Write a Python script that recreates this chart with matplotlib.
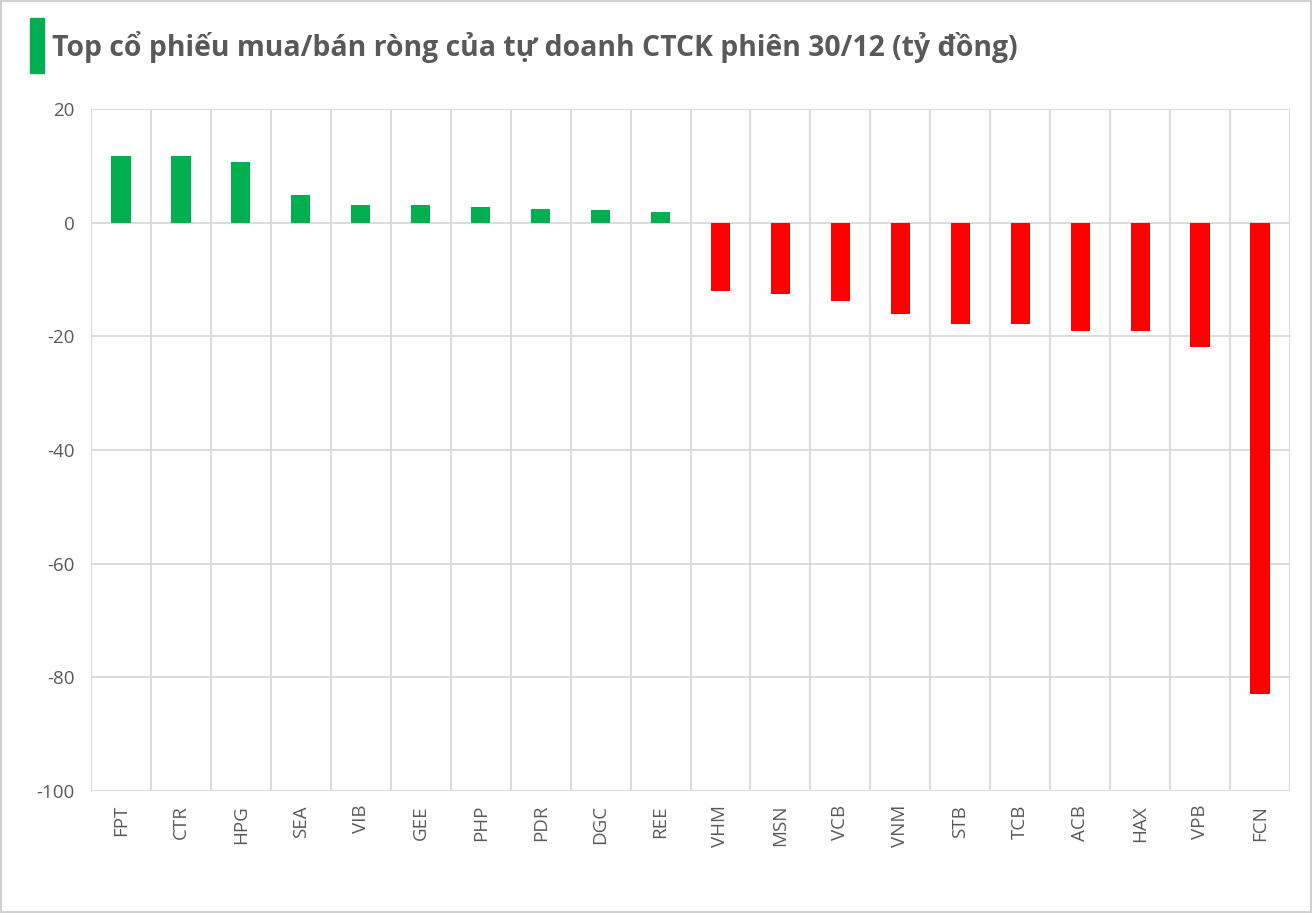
import matplotlib
matplotlib.use("Agg")
import matplotlib.pyplot as plt
from matplotlib.patches import Rectangle

# du lieu tu doanh CTCK phien 30/12 (ty dong)
tickers = ['FPT', 'CTR', 'HPG', 'SEA', 'VIB', 'GEE', 'PHP', 'PDR', 'DGC', 'REE',
           'VHM', 'MSN', 'VCB', 'VNM', 'STB', 'TCB', 'ACB', 'HAX', 'VPB', 'FCN']
values = [11.7, 11.7, 10.6, 4.8, 3.1, 3.1, 2.7, 2.4, 2.2, 1.8,
          -12.1, -12.5, -13.7, -16.0, -17.8, -17.8, -19.0, -19.0, -21.8, -83.0]
yticks = [20, 0, -20, -40, -60, -80, -100]

green = '#00b050'
red = '#ff0000'
grey_text = '#595959'
grid_col = '#d9d9d9'

plt.rcParams['font.family'] = ['Open Sans', 'DejaVu Sans']

fig = plt.figure(figsize=(13.12, 9.13), dpi=100)
ax = fig.add_axes([91/1312, 1-791/913, (1290-91)/1312, (791-109)/913])

colors = [green if v >= 0 else red for v in values]
x = list(range(len(tickers)))
ax.bar(x, values, width=0.32, color=colors, zorder=3)

ax.set_xlim(-0.5, len(tickers) - 0.5)
ax.set_ylim(-100, 20)
ax.set_yticks(yticks)
ax.set_yticklabels([str(t) for t in yticks])
ax.set_xticks(x)
ax.set_xticklabels(tickers, rotation=90)

# luoi doc giua cac cot
for i in range(len(tickers) + 1):
    ax.axvline(i - 0.5, color=grid_col, lw=1.3, zorder=1)
ax.yaxis.grid(True, color=grid_col, lw=1.3, zorder=1)
ax.set_axisbelow(True)

for s in ax.spines.values():
    s.set_visible(False)
ax.tick_params(axis='both', length=0, colors=grey_text)
ax.tick_params(axis='y', pad=12, labelsize=13.5)
ax.tick_params(axis='x', pad=10, labelsize=13.5)

# vien ngoai + tieu de
fig.patches.append(Rectangle((0.001, 0.001), 0.998, 0.998, transform=fig.transFigure,
                             fill=False, edgecolor='#d0d0d0', lw=1.5))
fig.patches.append(Rectangle((30/1312, 1-73/913), 14/1312, 55/913, transform=fig.transFigure,
                             color=green))
fig.text(52/1312, 1-47/913, 'Top cổ phiếu mua/bán ròng của tự doanh CTCK phiên 30/12 (tỷ đồng)',
         fontsize=20.4, fontweight='bold', color=grey_text, va='center', ha='left')

fig.savefig('out.png', dpi=100)
